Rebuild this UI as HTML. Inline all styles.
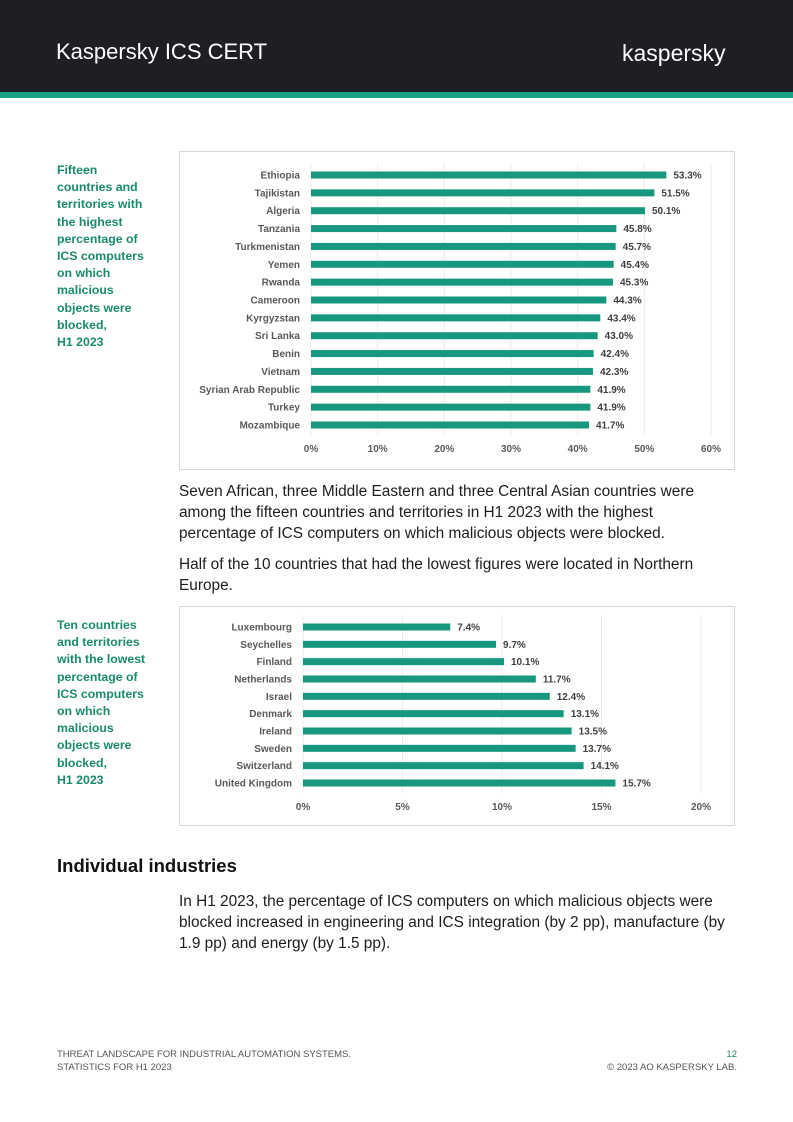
<!DOCTYPE html>
<html><head><meta charset="utf-8"><style>
body{margin:0;width:793px;height:1122px;position:relative;background:#fff;font-family:"Liberation Sans",sans-serif;overflow:hidden}
.hdr{position:absolute;left:0;top:0;width:793px;height:92px;background:#1d1f24}
.bar{position:absolute;left:0;top:92px;width:793px;height:6px;background:#17a185}
.cap{position:absolute;left:57px;color:#1a8a6e;font-weight:bold;font-size:12.3px;line-height:17.2px;width:110px;white-space:nowrap}
.txt{position:absolute;left:179px;width:580px;font-size:15.4px;line-height:21px;color:#1d1d1d;white-space:nowrap}
.frame{position:absolute;border:1px solid #d6d6d6;background:#fff}
svg text{font-family:"Liberation Sans",sans-serif}
.foot{position:absolute;font-size:9.5px;color:#555;line-height:13px}
</style></head><body>
<div class="hdr">
<div style="position:absolute;left:56px;top:39px;color:#fff;font-size:22px">Kaspersky ICS CERT</div>
<div style="position:absolute;left:622px;top:40px;color:#fff;font-size:23px">kaspersky</div>
</div>
<div class="bar"></div>

<div class="cap" style="top:162px">Fifteen<br>countries and<br>territories with<br>the highest<br>percentage of<br>ICS computers<br>on which<br>malicious<br>objects were<br>blocked,<br>H1 2023</div>
<div class="frame" style="left:179px;top:151px;width:554px;height:317px">
<svg id="c1" width="554" height="317"></svg></div>

<div class="txt" style="top:481px">Seven African, three Middle Eastern and three Central Asian countries were<br>among the fifteen countries and territories in H1 2023 with the highest<br>percentage of ICS computers on which malicious objects were blocked.</div>
<div class="txt" style="top:554px">Half of the 10 countries that had the lowest figures were located in Northern<br>Europe.</div>

<div class="cap" style="top:617px">Ten countries<br>and territories<br>with the lowest<br>percentage of<br>ICS computers<br>on which<br>malicious<br>objects were<br>blocked,<br>H1 2023</div>
<div class="frame" style="left:179px;top:606px;width:554px;height:218px">
<svg id="c2" width="554" height="218"></svg></div>

<div style="position:absolute;left:57px;top:855px;font-size:18.5px;font-weight:bold;color:#111">Individual industries</div>
<div class="txt" style="top:891px">In H1 2023, the percentage of ICS computers on which malicious objects were<br>blocked increased in engineering and ICS integration (by 2 pp), manufacture (by<br>1.9 pp) and energy (by 1.5 pp).</div>

<div class="foot" style="left:57px;top:1048px">THREAT LANDSCAPE FOR INDUSTRIAL AUTOMATION SYSTEMS.<br>STATISTICS FOR H1 2023</div>
<div class="foot" style="right:56px;top:1048px;text-align:right"><span style="color:#1a8a6e">12</span><br>© 2023 AO KASPERSKY LAB.</div>

<script>
const cats1=["Ethiopia","Tajikistan","Algeria","Tanzania","Turkmenistan","Yemen","Rwanda","Cameroon","Kyrgyzstan","Sri Lanka","Benin","Vietnam","Syrian Arab Republic","Turkey","Mozambique"];
const vals1=[53.3,51.5,50.1,45.8,45.7,45.4,45.3,44.3,43.4,43.0,42.4,42.3,41.9,41.9,41.7];
const ticks1=[0,10,20,30,40,50,60];
const cats2=["Luxembourg","Seychelles","Finland","Netherlands","Israel","Denmark","Ireland","Sweden","Switzerland","United Kingdom"];
const vals2=[7.4,9.7,10.1,11.7,12.4,13.1,13.5,13.7,14.1,15.7];
const ticks2=[0,5,10,15,20];
const NS="http://www.w3.org/2000/svg";
function mk(svg,tag,a){const e=document.createElementNS(NS,tag);for(const k in a)e.setAttribute(k,a[k]);svg.appendChild(e);return e;}
function draw(id,cats,vals,ticks,x0,x1,y0,y1,tickY,name){
 const svg=document.getElementById(id);
 const max=ticks[ticks.length-1];
 const sx=v=>x0+(x1-x0)*v/max;
 const step=(y1-y0)/(cats.length-1);
 const sy=i=>y0+i*step;
 ticks.forEach(t=>{
  const g=mk(svg,"line",{x1:sx(t),x2:sx(t),y1:y0-12,y2:y1+10,stroke:"#ebebeb","stroke-width":1});
  
  
  const l=mk(svg,"text",{x:sx(t),y:tickY,"text-anchor":"middle","font-size":10,"font-weight":"bold",fill:"#595959"});
  l.textContent=t+"%";
  
  
 });
 cats.forEach((c,i)=>{
  const y=sy(i);
  const lab=mk(svg,"text",{x:x0-11,y:y+3.5,"text-anchor":"end","font-size":10,"font-weight":"bold",fill:"#595959"});
  lab.textContent=c;
  
  
  const r=mk(svg,"rect",{x:x0,y:y-3.5,width:sx(vals[i])-x0,height:7,fill:"#17987e"});
  
  
  const v=mk(svg,"text",{x:sx(vals[i])+7,y:y+3.5,"font-size":10,"font-weight":"bold",fill:"#404040"});
  v.textContent=vals[i].toFixed(1)+"%";
  
  
 });
}
draw("c1",cats1,vals1,ticks1,131,531,23,273,300,"top-country");
draw("c2",cats2,vals2,ticks2,123,521,20,176,203,"bottom-country");
</script>
</body></html>
